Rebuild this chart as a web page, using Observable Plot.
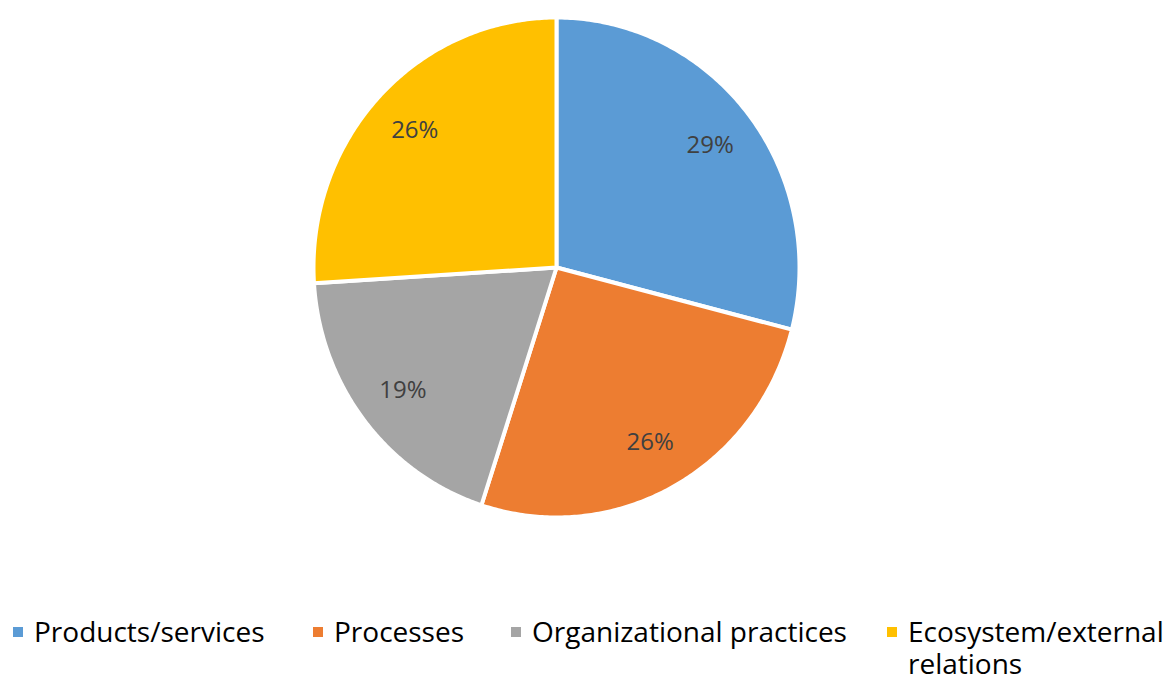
<!DOCTYPE html>
<html><head><meta charset="utf-8">
<script src="https://cdn.jsdelivr.net/npm/d3@7"></script>
<script src="https://cdn.jsdelivr.net/npm/@observablehq/plot@0.6"></script>
<style>
body{margin:0;background:#fff;font-family:"Open Sans",sans-serif;}
#wrap{position:relative;width:1171px;height:681px;background:#fff}
.item{position:absolute;top:615px;font-size:28px;line-height:32px;color:#000}
.sw{position:absolute;left:0;top:12px;width:10px;height:10px}
.lbl{display:block;margin-left:21px}
</style></head><body><div id="wrap"></div>
<script>
const categories = ["Products/services", "Processes", "Organizational practices", "Ecosystem/external relations"];
const shares = [29, 26, 19, 26];
const colors = ["#5B9BD5", "#ED7D31", "#A5A5A5", "#FFC000"];

const arcs = d3.pie().sort(null).value(d => d)(shares);
const pts = [];
arcs.forEach((a, i) => {
  pts.push({cat: categories[i], x: 0, y: 0});
  const n = 160;
  for (let k = 0; k <= n; k++) {
    const t = a.startAngle + (a.endAngle - a.startAngle) * k / n;
    pts.push({cat: categories[i], x: Math.sin(t), y: Math.cos(t)});
  }
});
const lab = arcs.map((a, i) => {
  const m = (a.startAngle + a.endAngle) / 2;
  return {x: 0.8 * Math.sin(m), y: 0.8 * Math.cos(m), text: shares[i] + "%"};
});

const chart = Plot.plot({
  width: 1171, height: 600, margin: 0,
  style: {background: "white"},
  x: {domain: [-1, 1], range: [313, 799], axis: null},
  y: {domain: [-1, 1], range: [517, 17], axis: null},
  color: {domain: categories, range: colors},
  marks: [
    Plot.line(pts, {x: "x", y: "y", z: "cat", fill: "cat", stroke: "white", strokeWidth: 4, curve: "linear-closed"}),
    Plot.text(lab, {x: "x", y: "y", text: "text", fill: "#404040", fontSize: 24, fontFamily: "Open Sans"})
  ]
});
const wrap = document.getElementById("wrap");
wrap.appendChild(chart);

const lefts = [13, 313, 511, 887];
categories.forEach((c, i) => {
  const it = document.createElement("div");
  it.className = "item";
  it.style.left = lefts[i] + "px";
  if (i === 3) it.style.width = (1171 - lefts[i]) + "px";
  const sw = document.createElement("span");
  sw.className = "sw";
  sw.style.background = colors[i];
  const t = document.createElement("span");
  t.className = "lbl";
  t.textContent = c;
  it.appendChild(sw); it.appendChild(t);
  wrap.appendChild(it);
});
</script></body></html>
